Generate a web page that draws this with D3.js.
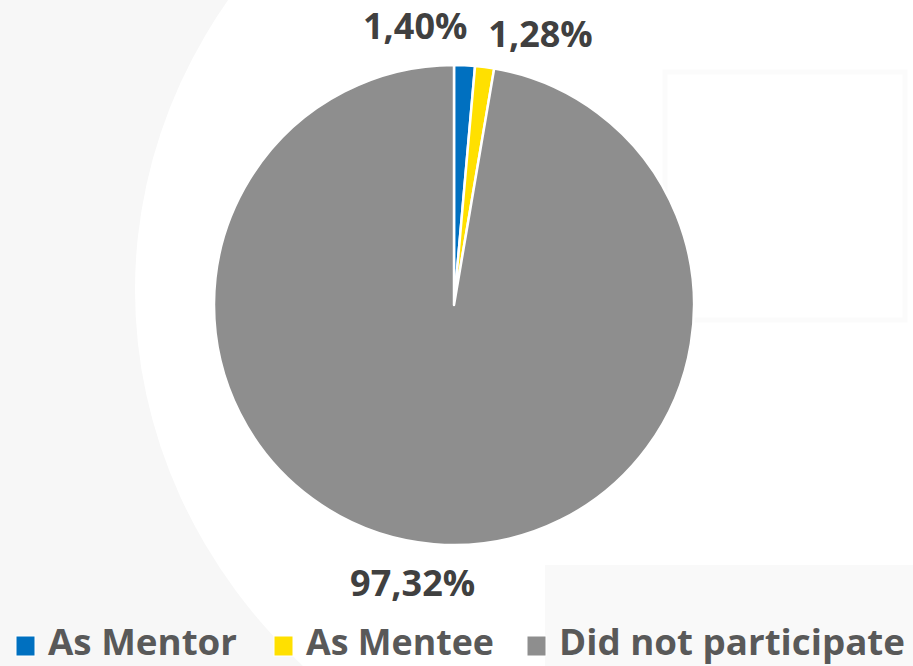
<!DOCTYPE html>
<html>
<head>
<meta charset="utf-8">
<script src="https://cdn.jsdelivr.net/npm/d3@7"></script>
<style>
  body { margin: 0; background: #fff; }
  svg { display: block; }
</style>
</head>
<body>
<div id="chart"></div>
<script>
var width = 913;
var height = 666;

var categories = ['As Mentor', 'As Mentee', 'Did not participate'];
var values = [1.40, 1.28, 97.32];
var labels = ['1,40%', '1,28%', '97,32%'];
var colors = ['#0070C0', '#FFE000', '#8E8E8E'];

// manual nudges for the data labels, like in the original
var labelNudge = [[-51, -2], [51, 4], [-18, 0]];

var svg = d3.select("#chart")
            .append("svg")
            .attr("width", width)
            .attr("height", height);

// faint watermark background
svg.append("rect")
    .attr("width", width)
    .attr("height", height)
    .attr("fill", "#f7f7f7");
svg.append("ellipse")
    .attr("cx", 730)
    .attr("cy", 290)
    .attr("rx", 595)
    .attr("ry", 540)
    .attr("fill", "#ffffff");
svg.append("rect")
    .attr("x", 545)
    .attr("y", 565)
    .attr("width", 368)
    .attr("height", 101)
    .attr("fill", "#f9f9f9");
svg.append("rect")
    .attr("x", 665)
    .attr("y", 72)
    .attr("width", 240)
    .attr("height", 248)
    .attr("fill", "none")
    .attr("stroke", "#fbfbfb")
    .attr("stroke-width", 5);

var cx = 454, cy = 305, radius = 240;

var pie = d3.pie().sort(null).value(function(d) { return d; });
var arc = d3.arc().innerRadius(0).outerRadius(radius);
var labelArc = d3.arc().innerRadius(radius + 38).outerRadius(radius + 38);

var arcs = pie(values);

var g = svg.append("g")
    .attr("transform", "translate(" + cx + "," + cy + ")");

g.selectAll("path")
    .data(arcs)
    .enter()
    .append("path")
    .attr("d", arc)
    .attr("fill", function(d, i) { return colors[i]; })
    .attr("stroke", "#fff")
    .attr("stroke-width", 2.5)
    .attr("stroke-linejoin", "round");

g.selectAll("text.lbl")
    .data(arcs)
    .enter()
    .append("text")
    .attr("class", "lbl")
    .attr("x", function(d, i) { return labelArc.centroid(d)[0] + labelNudge[i][0]; })
    .attr("y", function(d, i) { return labelArc.centroid(d)[1] + labelNudge[i][1]; })
    .attr("text-anchor", "middle")
    .attr("dominant-baseline", "central")
    .style("font-family", "'Open Sans', sans-serif")
    .style("font-weight", "bold")
    .style("font-size", "36px")
    .attr("fill", "#404040")
    .text(function(d, i) { return labels[i]; });

// legend
var legendX = [16, 274, 527];
var legendW = [189, 188, 346];

var legend = svg.append("g");
var item = legend.selectAll("g")
    .data(categories)
    .enter()
    .append("g")
    .attr("transform", function(d, i) { return "translate(" + legendX[i] + ",0)"; });

item.append("rect")
    .attr("x", 0)
    .attr("y", 636)
    .attr("width", 19)
    .attr("height", 20)
    .attr("fill", function(d, i) { return colors[i]; })
    .attr("stroke", "#fff")
    .attr("stroke-width", 1);

item.append("text")
    .attr("x", 32)
    .attr("y", 655)
    .attr("textLength", function(d, i) { return legendW[i]; })
    .attr("lengthAdjust", "spacingAndGlyphs")
    .style("font-family", "'Open Sans', sans-serif")
    .style("font-weight", "bold")
    .style("font-size", "35px")
    .attr("fill", "#595959")
    .text(function(d) { return d; });
</script>
</body>
</html>
